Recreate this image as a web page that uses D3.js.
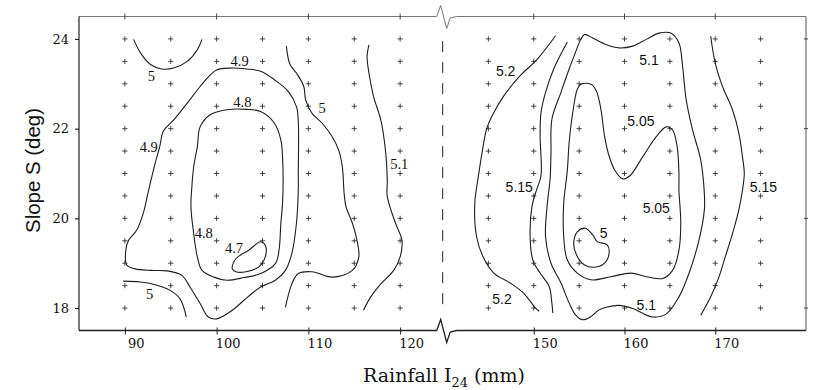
<!DOCTYPE html>
<html>
<head>
<meta charset="utf-8">
<script src="https://cdn.jsdelivr.net/npm/d3@7"></script>
<style>
  body { margin: 0; background: #fff; }
  svg { display: block; }
</style>
</head>
<body>
<svg id="chart" width="817" height="390"></svg>
<script>
// sample grid (the + marks)
const gridRainfall = [90, 95, 100, 105, 110, 115, 120, 145, 150, 155, 160, 165, 170, 175];
const gridSlope = [18, 18.5, 19, 19.5, 20, 20.5, 21, 21.5, 22, 22.5, 23, 23.5, 24];

const rainfallTicks = [90, 100, 110, 120, 150, 160, 170];
const slopeTicks = [18, 20, 22, 24];

// contour lines, points are [rainfall, slope]
// left block (I24 85-125)
const c5TopLeft = [[90.95,23.99],[91.7,23.69],[92.8,23.43],[94.0,23.33],[95.3,23.35],[96.8,23.5],[97.9,23.76],[98.4,23.99]];
const c49 = [[99.0,23.13],[100.0,23.31],[101.5,23.35],[103.3,23.33],[104.8,23.28],[106.3,23.09],[107.8,22.83],[108.7,22.49],
  [108.9,22.16],[108.9,21.0],[108.9,20.63],[108.7,19.89],[108.2,19.22],[107.5,18.84],[106.4,18.62],[104.8,18.47],[103.4,18.25],
  [101.7,17.95],[100.0,17.76],[99.1,17.8],[98.2,18.1],[97.1,18.47],[96.2,18.73],[94.6,18.83],[92.8,18.84],[91.0,18.88],
  [90.2,18.96],[90.1,19.29],[90.4,19.51],[91.3,19.74],[92.0,20.11],[92.5,20.55],[93.2,21.15],[93.8,21.6],[94.2,21.95],
  [95.3,22.19],[96.8,22.57],[98.2,22.94]];
const c48 = [[97.9,21.6],[98.2,22.04],[99.3,22.31],[101.1,22.42],[103.3,22.43],[104.8,22.38],[106.3,22.12],[107.0,21.75],
  [107.2,21.3],[107.2,20.4],[107.0,19.89],[106.8,19.29],[106.4,18.99],[104.8,18.77],[103.0,18.68],[101.1,18.62],[99.7,18.69],
  [98.4,18.84],[97.9,19.14],[97.5,19.66],[97.2,20.26],[97.3,20.7],[97.5,21.15]];
const c47 = [[101.7,18.88],[102.1,19.1],[103.5,19.29],[104.8,19.48],[105.3,19.4],[105.3,19.14],[104.6,18.92],[103.2,18.81],[102.1,18.81]];
const c5BottomLeft = [[89.8,18.6],[91.7,18.58],[93.5,18.51],[94.9,18.4],[96.0,18.21],[96.7,17.8]];
const c5Mid = [[107.6,23.84],[108.0,23.43],[108.7,23.24],[109.5,22.94],[109.7,22.64],[110.4,22.34],[111.5,22.12],[112.6,21.82],
  [113.3,21.52],[113.7,21.15],[113.9,20.55],[114.1,20.26],[114.8,19.89],[115.3,19.51],[115.5,19.14],[114.8,18.84],[112.6,18.69],
  [110.4,18.81],[108.9,18.77],[108.2,18.54],[107.5,18.02]];
const c51Left = [[116.6,23.87],[116.4,23.61],[116.6,23.24],[117.1,22.72],[117.9,22.19],[118.4,21.52],[118.6,20.85],[118.6,20.49],
  [119.5,19.89],[120.2,19.51],[120.0,19.14],[119.3,18.84],[117.9,18.54],[116.8,18.25],[116.0,17.95]];

// right block (I24 140-180)
const c52 = [[152.4,24.07],[150.4,23.55],[148.5,23.18],[146.7,22.73],[145.4,22.28],[144.8,21.99],[144.3,21.46],[143.9,20.94],
  [143.5,20.33],[143.7,19.59],[144.4,19.15],[145.6,18.78],[147.4,18.56],[148.9,18.33],[150.2,18.0],[150.6,17.93]];
const c515Left = [[153.7,23.93],[152.2,23.33],[151.3,22.81],[150.8,22.36],[150.7,21.84],[150.8,20.95],[150.3,20.63],[149.8,20.26],
  [149.6,19.59],[149.9,19.07],[150.7,18.78],[151.7,18.48],[152.0,18.11],[152.1,17.89]];
const c51Right = [[155.6,24.1],[156.5,24.02],[158.0,23.87],[159.4,23.8],[160.9,23.84],[162.4,23.99],[163.8,24.13],[165.1,24.13],
  [166.0,23.91],[166.4,23.39],[166.8,22.64],[167.5,21.97],[168.4,21.3],[168.8,20.55],[168.8,20.19],[168.2,19.51],[167.1,18.77],
  [166.0,18.25],[164.6,17.87],[163.1,17.8],[160.9,17.99],[159.4,18.06],[158.0,18.02],[157.2,17.96],[156.3,17.81],[155.4,17.74],
  [154.6,17.85],[153.9,18.11],[153.0,18.56],[151.9,19.0],[151.3,19.59],[151.5,20.33],[151.8,20.87],[151.9,21.46],[152.0,22.21],
  [153.0,22.81],[153.9,23.33],[154.6,23.7],[155.2,24.0]];
const c505 = [[155.2,22.99],[156.3,22.99],[156.9,22.84],[157.4,22.43],[157.8,21.84],[158.3,21.39],[159.0,21.05],[159.8,20.88],
  [160.6,20.95],[162.0,21.37],[163.5,21.82],[164.6,22.04],[165.3,21.97],[165.8,21.6],[166.0,21.0],[166.0,20.63],[166.2,19.89],
  [166.0,19.29],[165.3,18.84],[164.2,18.66],[162.4,18.7],[160.7,18.78],[158.5,18.7],[156.3,18.63],[154.8,18.78],[153.7,19.07],
  [153.3,19.59],[153.3,20.33],[153.7,21.07],[153.9,21.69],[154.3,22.36],[154.8,22.88]];
const c5Right = [[154.8,19.7],[155.7,19.78],[156.5,19.63],[157.0,19.48],[158.1,19.41],[158.3,19.22],[157.8,19.0],[156.7,18.91],
  [155.6,18.96],[154.7,19.19],[154.4,19.44]];
const c515Right = [[169.5,24.06],[170.0,23.46],[170.8,22.94],[171.9,22.42],[172.6,21.9],[173.0,21.37],[173.2,21.0],[173.0,20.63],
  [172.6,20.19],[171.9,19.66],[171.1,19.14],[170.4,18.69],[169.5,18.25],[168.4,17.84]];

const openLines = [c5TopLeft, c5BottomLeft, c5Mid, c51Left, c52, c515Left, c515Right];
const closedLines = [c49, c48, c47, c51Right, c505, c5Right];

// contour labels [text, rainfall, slope]
const leftLabels = [
  ["5", 92.9, 23.18], ["4.9", 102.5, 23.5], ["4.8", 102.8, 22.6], ["5", 111.5, 22.46], ["4.9", 92.6, 21.6],
  ["5.1", 119.9, 21.22], ["4.8", 98.6, 19.68], ["4.7", 101.9, 19.34], ["5", 92.7, 18.31]
];
const rightLabels = [
  ["5.2", 146.9, 23.29], ["5.1", 162.7, 23.52], ["5.05", 161.8, 22.16], ["5.15", 148.4, 20.7], ["5.15", 175.3, 20.7],
  ["5.05", 163.5, 20.22], ["5", 157.7, 19.67], ["5.2", 146.5, 18.19], ["5.1", 162.4, 18.06]
];

let svg = d3.select("#chart");

// broken x axis: 85-125 then 140-180
let x = d3.scaleLinear().domain([85, 125, 140, 180]).range([79, 446, 443, 806]);
let y = d3.scaleLinear().domain([17.5, 24.5]).range([330.5, 16.5]);

let plotL = 79, plotR = 806, plotT = y(24.5), plotB = y(17.5);
let bx = 442.7;

// frame: top & bottom with break zigzag
let zig = (ay) => "M" + plotL + "," + ay + "H" + (bx - 6) + "L" + (bx - 2) + "," + (ay - 11) +
  "L" + (bx + 4) + "," + (ay + 12) + "L" + (bx + 7.5) + "," + (ay + 1.5) + "L" + (bx + 14) + "," + ay + "H" + plotR;

svg.append("path").attr("d", zig(plotT)).attr("fill", "none").attr("stroke", "#777").attr("stroke-width", 1);
svg.append("path").attr("d", zig(plotB)).attr("fill", "none").attr("stroke", "#222").attr("stroke-width", 1.3);
svg.append("line").attr("x1", plotR).attr("x2", plotR).attr("y1", plotT).attr("y2", plotB)
  .attr("stroke", "#555").attr("stroke-width", 1);

// dashed break line
svg.append("line").attr("x1", bx).attr("x2", bx).attr("y1", y(23.95)).attr("y2", y(18.05))
  .attr("stroke", "#222").attr("stroke-width", 1).attr("stroke-dasharray", "11,10");

// top ticks
svg.selectAll(".ttick").data(rainfallTicks).enter().append("line")
  .attr("x1", d => x(d)).attr("x2", d => x(d)).attr("y1", plotT - 3).attr("y2", plotT + 3)
  .attr("stroke", "#444");
// right ticks
svg.selectAll(".rtick").data(slopeTicks).enter().append("line")
  .attr("x1", plotR - 2).attr("x2", plotR + 2).attr("y1", d => y(d)).attr("y2", d => y(d))
  .attr("stroke", "#444");

// bottom axis
let xAxis = svg.append("g").attr("transform", "translate(0," + plotB + ")")
  .call(d3.axisBottom(x).tickValues(rainfallTicks).tickFormat(d3.format("d")).tickSize(4).tickPadding(4.5));
xAxis.select(".domain").remove();
xAxis.selectAll(".tick line").attr("y1", -3).attr("stroke", "#222");
xAxis.selectAll(".tick text").attr("x", 11)
  .attr("font-family", "DejaVu Serif").attr("font-size", "13px").attr("fill", "#111");

// left axis
let yAxis = svg.append("g").attr("transform", "translate(" + plotL + ",0)")
  .call(d3.axisLeft(y).tickValues(slopeTicks).tickFormat(d3.format("d")).tickSize(4).tickPadding(6));
yAxis.select(".domain").attr("d", "M0," + plotT + "V" + plotB).attr("stroke", "#222").attr("stroke-width", 1.2);
yAxis.selectAll(".tick text").attr("font-family", "DejaVu Serif").attr("font-size", "13px").attr("fill", "#111");

// + marks
let pts = [];
gridRainfall.forEach(r => gridSlope.forEach(s => pts.push([r, s])));
svg.append("g").selectAll("path").data(pts).enter().append("path")
  .attr("d", "M-2.6,0H2.6M0,-2.6V2.6")
  .attr("transform", d => "translate(" + x(d[0]) + "," + y(d[1]) + ")")
  .attr("stroke", "#333").attr("stroke-width", 0.9).attr("fill", "none");

// contours
let lineOpen = d3.line().x(d => x(d[0])).y(d => y(d[1])).curve(d3.curveCatmullRom.alpha(0.5));
let lineClosed = d3.line().x(d => x(d[0])).y(d => y(d[1])).curve(d3.curveCatmullRomClosed.alpha(0.5));

svg.append("g").selectAll("path").data(openLines).enter().append("path")
  .attr("d", lineOpen).attr("fill", "none").attr("stroke", "#1e1e1e").attr("stroke-width", 1.1);
svg.append("g").selectAll("path").data(closedLines).enter().append("path")
  .attr("d", lineClosed).attr("fill", "none").attr("stroke", "#1e1e1e").attr("stroke-width", 1.1);

// contour labels
svg.append("g").selectAll("text").data(leftLabels).enter().append("text")
  .attr("x", d => x(d[1])).attr("y", d => y(d[2])).attr("dy", "0.35em")
  .attr("text-anchor", "middle").attr("font-family", "Liberation Serif").attr("font-size", "14.5px")
  .attr("fill", "#111").text(d => d[0]);
svg.append("g").selectAll("text").data(rightLabels).enter().append("text")
  .attr("x", d => x(d[1])).attr("y", d => y(d[2])).attr("dy", "0.35em")
  .attr("text-anchor", "middle").attr("font-family", "Liberation Sans").attr("font-size", "14px")
  .attr("fill", "#111").text(d => d[0]);

// axis titles
let xt = svg.append("text").attr("x", 444).attr("y", 382).attr("text-anchor", "middle")
  .attr("font-family", "DejaVu Serif").attr("font-size", "19px").attr("fill", "#111");
xt.append("tspan").text("Rainfall I");
xt.append("tspan").attr("font-size", "13px").attr("dy", 5).text("24");
xt.append("tspan").attr("dy", -5).text(" (mm)");

svg.append("text").attr("transform", "translate(40,170.5) rotate(-90)").attr("text-anchor", "middle")
  .attr("font-family", "Liberation Sans").attr("font-size", "21px").attr("fill", "#111")
  .attr("textLength", 125).attr("lengthAdjust", "spacingAndGlyphs")
  .text("Slope S (deg)");
</script>
</body>
</html>
